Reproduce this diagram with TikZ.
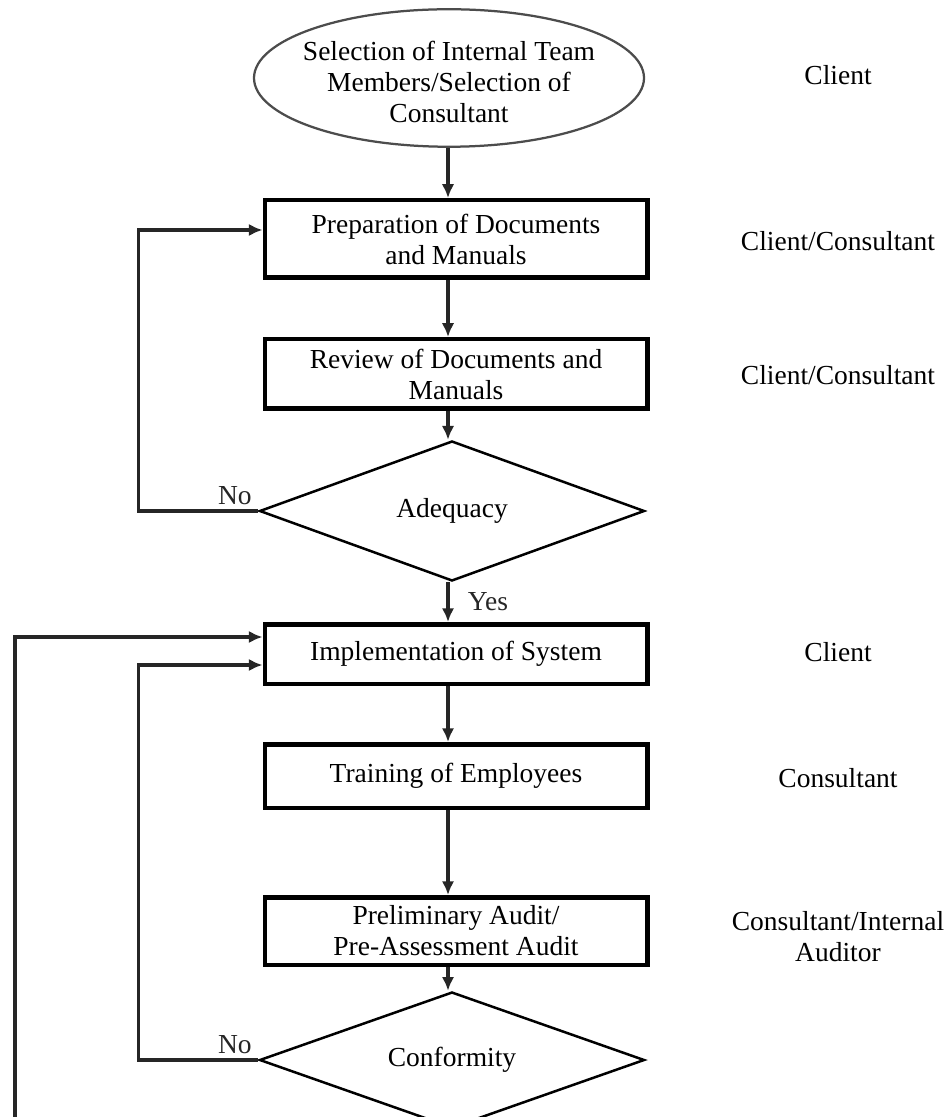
\documentclass[tikz,border=0pt]{standalone}
\usepackage{fontspec}
\setmainfont{Liberation Serif}
\usetikzlibrary{shapes.geometric,arrows.meta}

\begin{document}
\begin{tikzpicture}[x=0.4pt,y=-0.4pt,
	every node/.style={font=\fontsize{11}{12.4}\selectfont},
	startbox/.style={ellipse,draw=black!70,line width=0.9pt,minimum width=156pt,minimum height=55pt,inner sep=0pt},
	procbox/.style={draw,line width=1.8pt,minimum width=153pt,align=center,inner sep=0pt},
	decision/.style={diamond,draw,line width=1pt,aspect=2.75,minimum width=154pt,minimum height=56pt,inner sep=0pt},
	conn/.style={line width=1.3pt,black!85,-{Latex[length=5.5pt,width=5pt]}},
	role/.style={align=center}]
	\useasboundingbox (0,0) rectangle (949,1117);
	\coordinate (spine) at (448,0);
	\coordinate (recheck) at (15,1117);

	% flow
	\node[startbox] (sel) at (449,78) {};
	\node[align=center] (seltext) at (449,82) {Selection of Internal Team\\Members/Selection of\\Consultant};
	\node[procbox,minimum height=31pt] (prep) at (456,239) {Preparation of Documents\\and Manuals};
	\node[procbox,minimum height=27.8pt] (rev) at (456,374) {Review of Documents and\\Manuals};
	\node[decision] (ade) at (452,511) {Adequacy};
	\node[procbox,minimum height=23.8pt] (impl) at (456,654) {Implementation of System};
	\node[procbox,minimum height=25.4pt] (train) at (456,776) {Training of Employees};
	\node[procbox,minimum height=27pt] (pre) at (456,931) {Preliminary Audit/\\Pre-Assessment Audit};
	\node[decision,minimum height=54.4pt] (conf) at (452,1060) {Conformity};

	% who does it
	\node[role] (r1) at (838,75) {Client};
	\node[role] (r2) at (838,241) {Client/Consultant};
	\node[role] (r3) at (838,375) {Client/Consultant};
	\node[role] (r4) at (838,652) {Client};
	\node[role] (r5) at (838,778) {Consultant};
	\node[role] (r6) at (838,937) {Consultant/Internal\\Auditor};

	\draw[conn] (sel.south -| spine) -- (prep.north -| spine);
	\draw[conn] (prep.south -| spine) -- (rev.north -| spine);
	\draw[conn] (rev.south -| spine) -- (ade.north -| spine);
	\draw[conn] (ade.south -| spine) -- node[right=4pt] (yes) {Yes} (impl.north -| spine);
	\draw[conn] (impl.south -| spine) -- (train.north -| spine);
	\draw[conn] (train.south -| spine) -- (pre.north -| spine);
	\draw[conn] (pre.south -| spine) -- (conf.north -| spine);

	% loops back
	\draw[conn] (ade.west) node[above left,inner sep=2pt] (noa) {No} -- ++(-120,0) |- ([yshift=3.6pt]prep.west);
	\draw[conn] (conf.west) node[above left,inner sep=2pt] (noc) {No} -- ++(-120,0) |- ([yshift=-4.4pt]impl.west);
	\draw[conn] (recheck) |- ([yshift=6.8pt]impl.west);
\end{tikzpicture}
\end{document}
